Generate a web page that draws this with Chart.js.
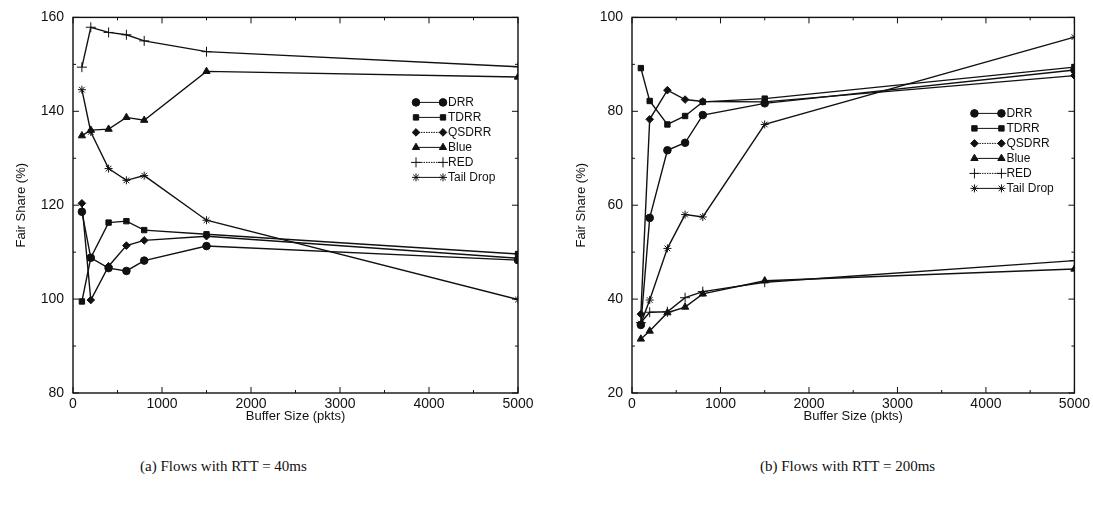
<!DOCTYPE html>
<html>
<head>
<meta charset="utf-8">
<script src="https://cdn.jsdelivr.net/npm/chart.js@4.4.1/dist/chart.umd.min.js"></script>
<style>
  body { margin: 0; background: #fff; width: 1093px; height: 506px; position: relative; overflow: hidden; }
  .box { position: absolute; top: 0; }
  .cap { position: absolute; top: 458px; font-family: "Liberation Serif", "DejaVu Serif", serif; font-size: 15px; color: #111; }
</style>
</head>
<body>
<div class="box" style="left:0"><canvas id="rtt40" width="545" height="430"></canvas></div>
<div class="box" style="left:560px"><canvas id="rtt200" width="533" height="430"></canvas></div>
<div class="cap" style="left:140px">(a) Flows with RTT = 40ms</div>
<div class="cap" style="left:760px">(b) Flows with RTT = 200ms</div>
<script>
// buffer sizes (pkts) on x
var bufferSizes = [100, 200, 400, 600, 800, 1500, 5000];
var schemes = ['DRR', 'TDRR', 'QSDRR', 'Blue', 'RED', 'Tail Drop'];
var markers = ['circle', 'rect', 'rectRot', 'triangle', 'cross', 'star'];

// (a) RTT = 40ms, fair share %
var drr40   = [118.6, 108.8, 106.6, 106.0, 108.2, 111.3, 108.3];
var tdrr40  = [99.5, 108.8, 116.3, 116.6, 114.7, 113.8, 109.6];
var qsdrr40 = [120.4, 99.8, 107.0, 111.4, 112.5, 113.4, 108.7];
var blue40  = [134.8, 136.0, 136.2, 138.7, 138.1, 148.5, 147.3];
var red40   = [149.4, 157.9, 156.8, 156.3, 155.0, 152.7, 149.5];
var tail40  = [144.6, 135.6, 127.8, 125.3, 126.3, 116.8, 99.9];

// (b) RTT = 200ms
var drr200   = [34.5, 57.3, 71.7, 73.3, 79.2, 81.7, 88.8];
var tdrr200  = [89.2, 82.2, 77.2, 79.0, 82.0, 82.7, 89.4];
var qsdrr200 = [36.8, 78.3, 84.5, 82.5, 82.1, 82.0, 87.6];
var blue200  = [31.5, 33.2, 37.1, 38.3, 41.1, 43.9, 46.4];
var red200   = [35.0, 37.2, 37.3, 40.3, 41.6, 43.6, 48.2];
var tail200  = [34.8, 39.8, 50.8, 58.0, 57.5, 77.2, 95.8];

var FONT = '"Liberation Sans", Arial, Helvetica, sans-serif';

function pointOpts(style) {
  if (style === 'cross') return { r: 5, bw: 1 };
  if (style === 'star') return { r: 4, bw: 1 };
  if (style === 'triangle') return { r: 4.2, bw: 1 };
  return { r: 3.8, bw: 1 };
}

function mark(ctx, style, x, y) {
  var p = pointOpts(style);
  if (Chart.helpers && Chart.helpers.drawPoint) {
    Chart.helpers.drawPoint(ctx, { pointStyle: style, radius: p.r, rotation: 0, borderWidth: p.bw }, x, y);
  } else {
    ctx.beginPath(); ctx.arc(x, y, p.r, 0, Math.PI * 2); ctx.fill();
  }
}

// frame with gnuplot style inward ticks
var frameTicks = {
  id: 'frameTicks',
  afterDraw: function (chart) {
    var ctx = chart.ctx, a = chart.chartArea, x = chart.scales.x, y = chart.scales.y;
    ctx.save();
    ctx.strokeStyle = '#111';
    ctx.lineWidth = 1.4;
    ctx.strokeRect(a.left, a.top, a.right - a.left, a.bottom - a.top);
    ctx.lineWidth = 1;
    ctx.beginPath();
    for (var v = x.min; v <= x.max; v += 500) {
      var len = v % 1000 === 0 ? 6 : 3;
      var px = x.getPixelForValue(v);
      ctx.moveTo(px, a.bottom); ctx.lineTo(px, a.bottom - len);
      ctx.moveTo(px, a.top); ctx.lineTo(px, a.top + len);
    }
    for (var w = y.min; w <= y.max; w += 10) {
      var l2 = (w - y.min) % 20 === 0 ? 6 : 3;
      var py = y.getPixelForValue(w);
      ctx.moveTo(a.left, py); ctx.lineTo(a.left + l2, py);
      ctx.moveTo(a.right, py); ctx.lineTo(a.right - l2, py);
    }
    ctx.stroke();
    ctx.restore();
  }
};

// legend drawn inside the plot, marker--line--marker label
var inLegend = {
  id: 'inLegend',
  afterDraw: function (chart, args, opts) {
    var ctx = chart.ctx, a = chart.chartArea;
    var x0 = a.right - opts.fromRight, y0 = a.top + opts.fromTop;
    ctx.save();
    ctx.font = '12px ' + FONT;
    ctx.textBaseline = 'middle';
    chart.data.datasets.forEach(function (ds, i) {
      var yy = y0 + i * 15, x1 = x0 + 27;
      ctx.strokeStyle = '#111';
      ctx.fillStyle = '#111';
      ctx.lineWidth = 1;
      ctx.setLineDash(ds.label === 'QSDRR' || ds.label === 'RED' ? [1.5, 1] : []);
      ctx.beginPath(); ctx.moveTo(x0, yy); ctx.lineTo(x1, yy); ctx.stroke();
      ctx.setLineDash([]);
      mark(ctx, ds.pointStyle, x0, yy);
      mark(ctx, ds.pointStyle, x1, yy);
      ctx.fillStyle = '#111';
      ctx.fillText(ds.label, x1 + 5, yy);
    });
    ctx.restore();
  }
};

function makeChart(id, series, yMin, yMax, yWidth, padRight, legendPos) {
  var datasets = series.map(function (vals, i) {
    var p = pointOpts(markers[i]);
    return {
      label: schemes[i],
      data: vals.map(function (v, k) { return { x: bufferSizes[k], y: v }; }),
      borderColor: '#111',
      backgroundColor: '#111',
      borderWidth: 1.4,
      pointStyle: markers[i],
      pointRadius: p.r,
      pointBorderWidth: p.bw,
      tension: 0
    };
  });
  return new Chart(document.getElementById(id), {
    type: 'line',
    data: { datasets: datasets },
    options: {
      responsive: false,
      animation: false,
      layout: { padding: { top: 17, right: padRight, left: 0, bottom: 0 } },
      plugins: {
        legend: { display: false },
        tooltip: { enabled: false },
        inLegend: legendPos
      },
      scales: {
        x: {
          type: 'linear', min: 0, max: 5000,
          grid: { display: false, drawTicks: false, tickLength: 0 }, border: { display: false },
          ticks: { stepSize: 1000, padding: 3, color: '#111', font: { family: FONT, size: 14 },
                   callback: function (v) { return String(v); } },
          title: { display: true, text: 'Buffer Size (pkts)', color: '#111', padding: { top: 0, bottom: 6 }, font: { family: FONT, size: 13 } },
          afterFit: function (s) { s.height = 37; }
        },
        y: {
          min: yMin, max: yMax,
          grid: { display: false, drawTicks: false, tickLength: 0 }, border: { display: false },
          ticks: { stepSize: 20, padding: 9, color: '#111', font: { family: FONT, size: 14 } },
          title: { display: true, text: 'Fair Share (%)', color: '#111', padding: { top: 14, bottom: 0 }, font: { family: FONT, size: 13 } },
          afterFit: function (s) { s.width = yWidth; }
        }
      }
    },
    plugins: [frameTicks, inLegend]
  });
}

makeChart('rtt40', [drr40, tdrr40, qsdrr40, blue40, red40, tail40], 80, 160, 73, 27, { fromRight: 102, fromTop: 85 });
makeChart('rtt200', [drr200, tdrr200, qsdrr200, blue200, red200, tail200], 20, 100, 72, 17, { fromRight: 100, fromTop: 96 });
</script>
</body>
</html>
